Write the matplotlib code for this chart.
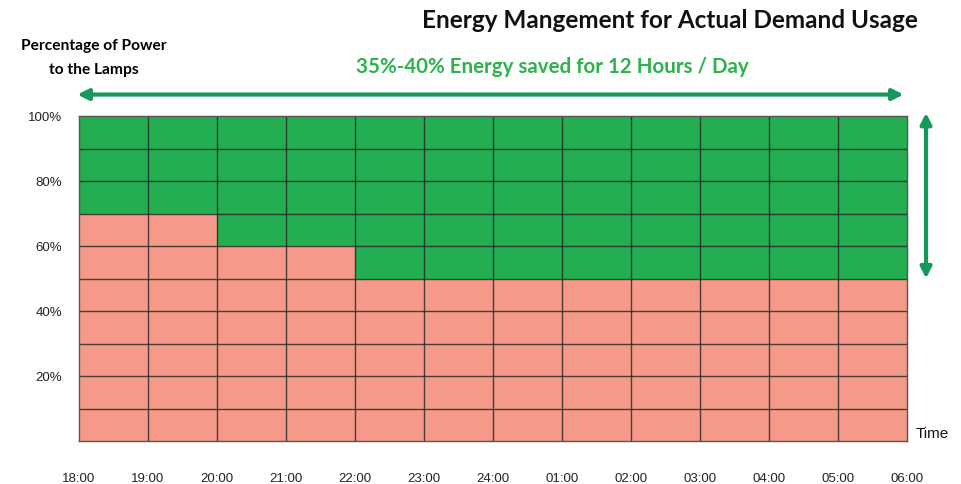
import matplotlib.pyplot as plt
import numpy as np

# hourly slots 18:00 -> 06:00
hours = ["18:00", "19:00", "20:00", "21:00", "22:00", "23:00", "24:00",
         "01:00", "02:00", "03:00", "04:00", "05:00", "06:00"]
# percentage of power used per slot (pink), rest is saved (green)
power_used = [70, 70, 60, 60, 50, 50, 50, 50, 50, 50, 50, 50]
ytick_vals = [20, 40, 60, 80, 100]
ytick_labels = ["20%", "40%", "60%", "80%", "100%"]

pink = "#F59A89"
green = "#23AE52"
arrow_green = "#16985A"
text_green = "#2DB24C"

plt.rcParams['font.family'] = ['Liberation Sans', 'DejaVu Sans']

fig = plt.figure(figsize=(9.61, 4.84), dpi=100)
ax = fig.add_axes([0.0822, 0.0888, 0.8616, 0.6715])

x = np.arange(len(power_used))
saved = [100 - p for p in power_used]
ax.bar(x, power_used, width=1.0, align='edge', color=pink, linewidth=0)
ax.bar(x, saved, bottom=power_used, width=1.0, align='edge', color=green, linewidth=0)

# grid cells
for yv in range(10, 100, 10):
    ax.axhline(yv, color="#222222", lw=1.0, alpha=0.8)
for xv in range(1, len(power_used)):
    ax.axvline(xv, color="#222222", lw=1.0, alpha=0.8)

ax.set_xlim(0, len(power_used))
ax.set_ylim(0, 100)
for s in ax.spines.values():
    s.set_color("#555555")
    s.set_linewidth(1.0)

ax.set_xticks(np.arange(len(hours)))
ax.set_xticklabels(hours, fontsize=9.5, color="#222222")
ax.set_yticks(ytick_vals)
ax.set_yticklabels(ytick_labels, fontsize=9.5, color="#222222")
ax.tick_params(axis='x', length=0, pad=23)
ax.tick_params(axis='y', length=0, pad=12)

ax.text(1.01, 0.0, "Time", transform=ax.transAxes, fontsize=11,
        ha='left', va='bottom', color="#111111")

# titles
fig.text(0.955, 0.957, "Energy Mangement for Actual Demand Usage",
         ha='right', va='center', fontsize=17.5, fontweight='bold',
         family=['Lato', 'DejaVu Sans'], color="#111111")
fig.text(0.098, 0.905, "Percentage of Power", ha='center', va='center',
         fontsize=11.2, fontweight='bold', family=['Lato', 'DejaVu Sans'])
fig.text(0.098, 0.855, "to the Lamps", ha='center', va='center',
         fontsize=11.2, fontweight='bold', family=['Lato', 'DejaVu Sans'])
fig.text(0.575, 0.862, "35%-40% Energy saved for 12 Hours / Day",
         ha='center', va='center', fontsize=14.8, fontweight='bold',
         family=['Lato', 'DejaVu Sans'], color=text_green)

# horizontal span arrow across all hours
ax.annotate("", xy=(-0.002, 1.066), xytext=(0.996, 1.066),
            xycoords='axes fraction', textcoords='axes fraction',
            arrowprops=dict(arrowstyle='<|-|>', color=arrow_green, lw=3,
                            mutation_scale=16, shrinkA=0, shrinkB=0),
            annotation_clip=False)
# vertical arrow showing saved band
ax.annotate("", xy=(1.023, 101), xytext=(1.023, power_used[-1]),
            xycoords=('axes fraction', 'data'), textcoords=('axes fraction', 'data'),
            arrowprops=dict(arrowstyle='<|-|>', color=arrow_green, lw=3,
                            mutation_scale=16, shrinkA=0, shrinkB=0),
            annotation_clip=False)

fig.savefig("out.png", dpi=100)
